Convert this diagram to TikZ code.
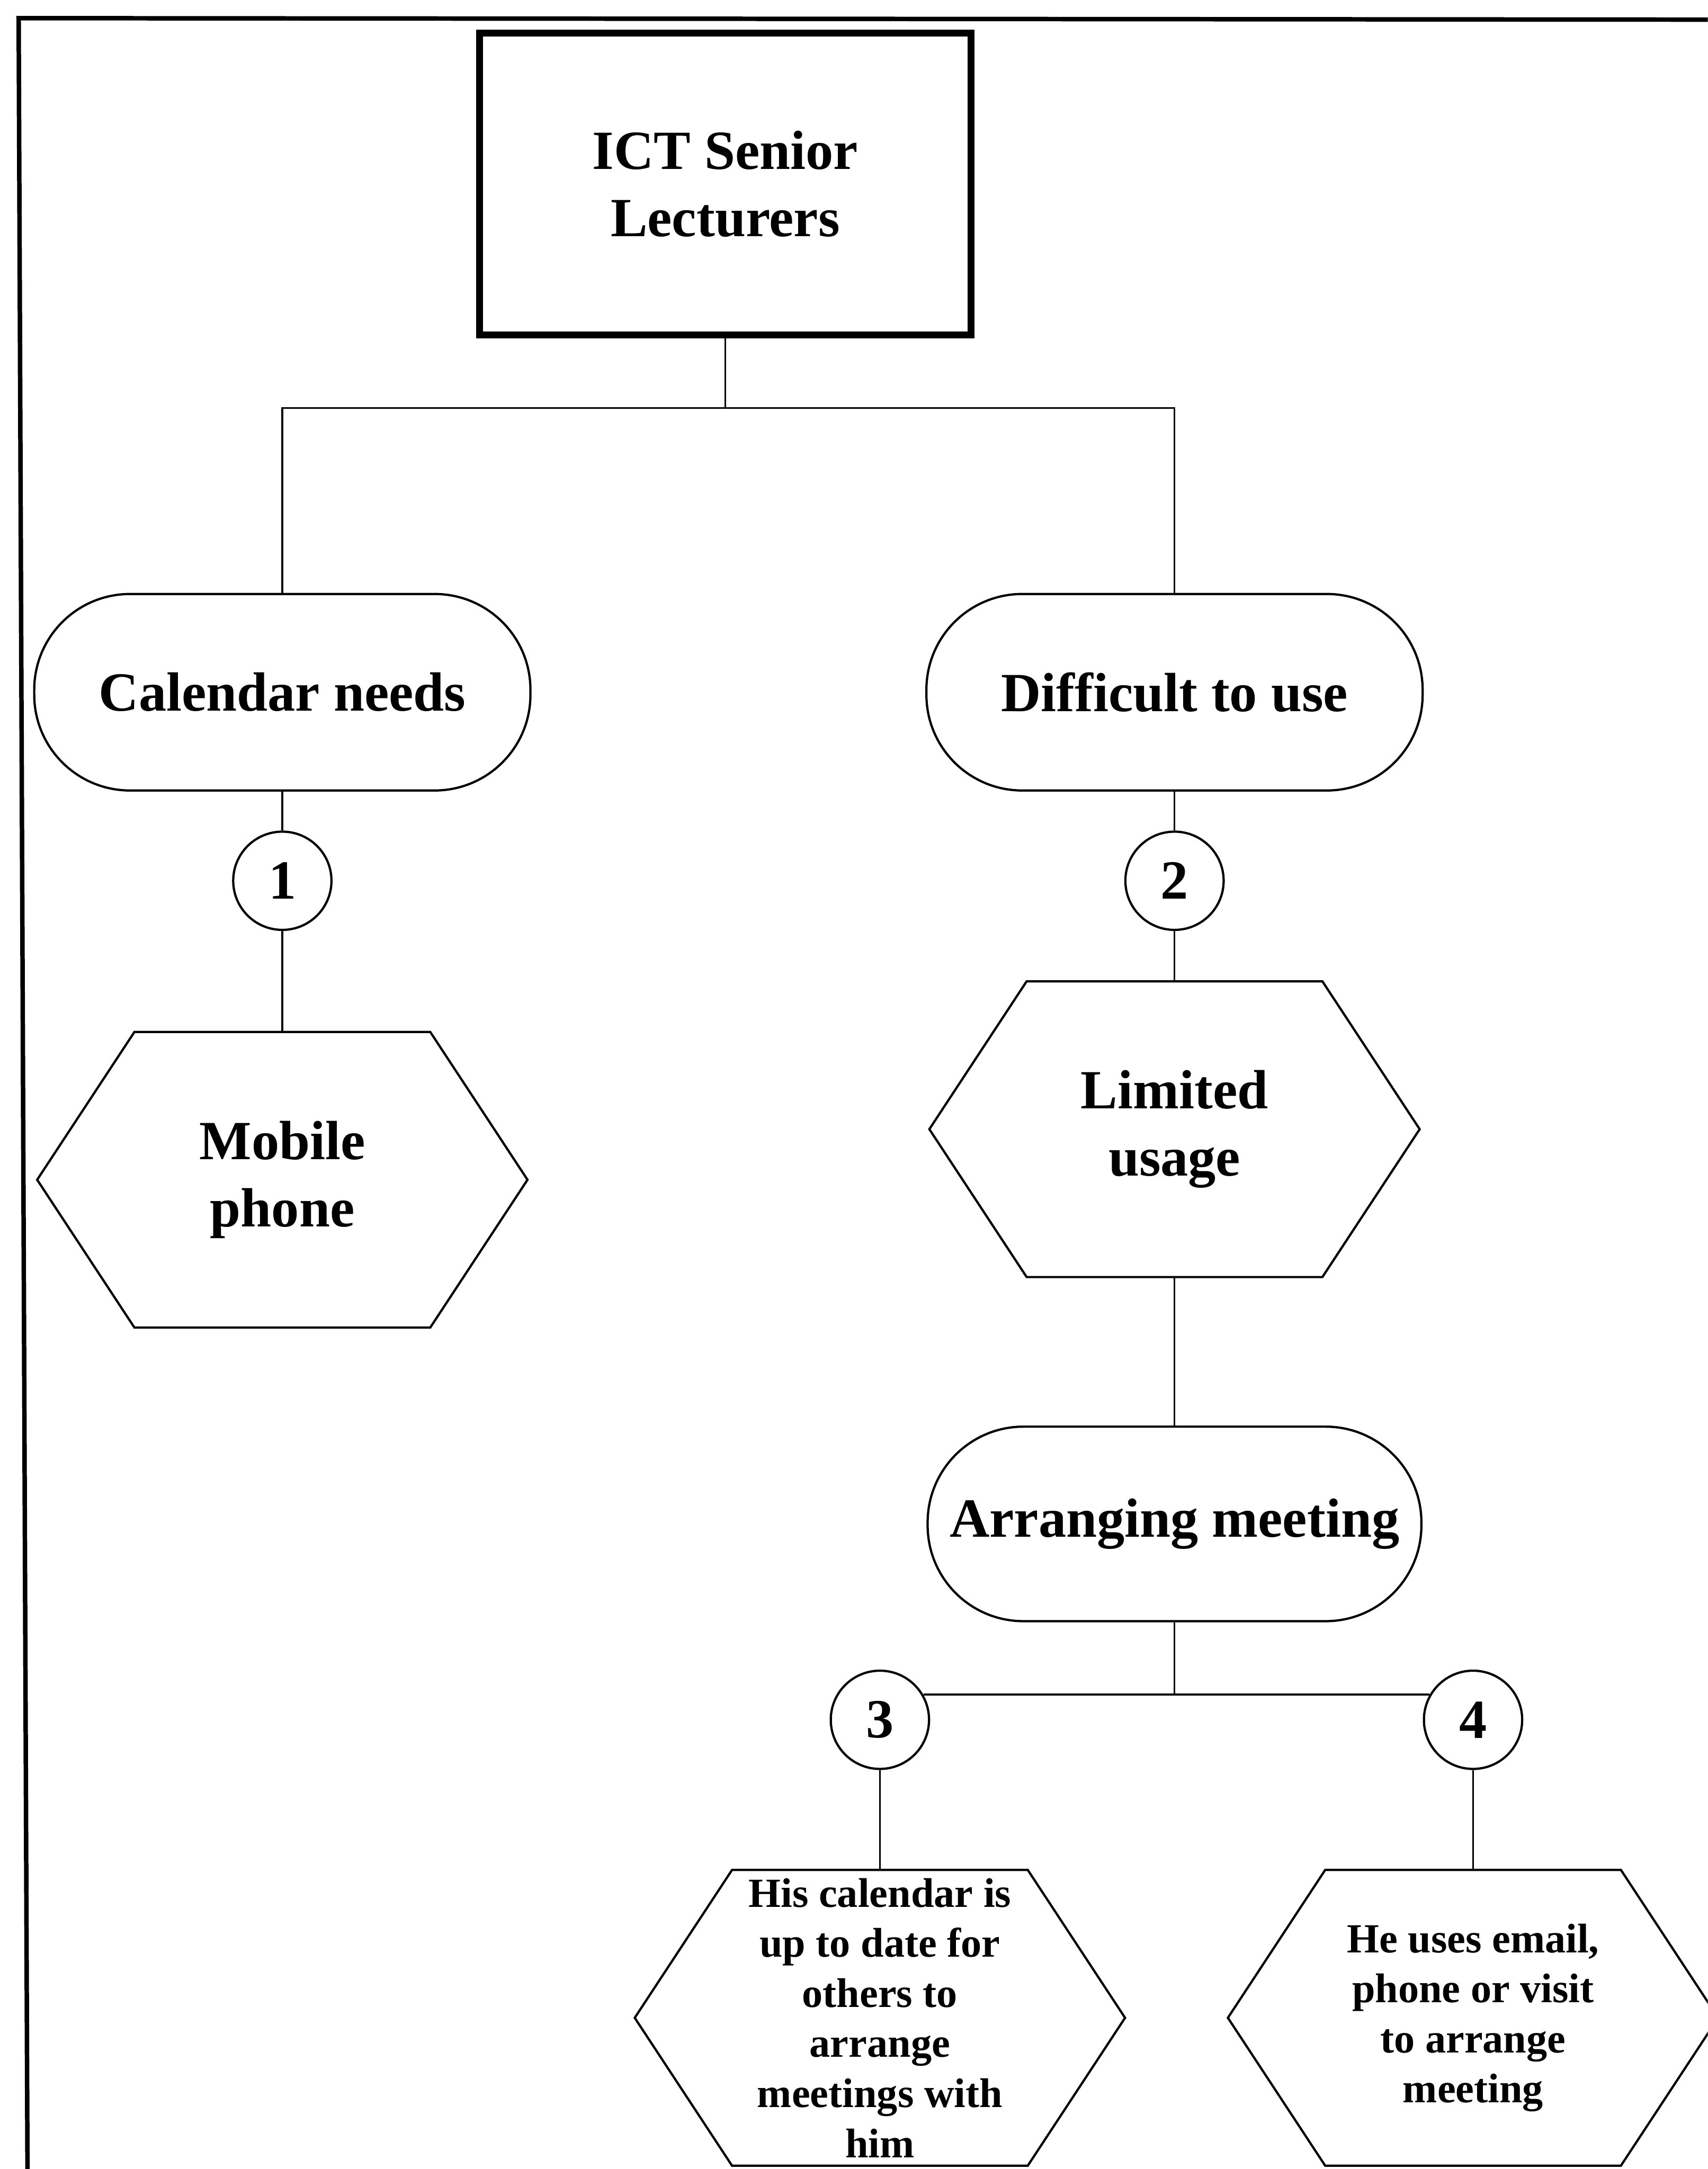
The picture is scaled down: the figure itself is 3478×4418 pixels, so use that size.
\documentclass[tikz,border=0pt]{standalone}
\usepackage{fontspec}
\setmainfont{Liberation Serif}
\newcommand\hexoutline[1]{%
  \draw[shapeline] ([xshift=1.98cm]#1.north west) -- ([xshift=-1.98cm]#1.north east)
    -- (#1.east) -- ([xshift=-1.98cm]#1.south east) -- ([xshift=1.98cm]#1.south west)
    -- (#1.west) -- cycle;}
\begin{document}
\begin{tikzpicture}[x=0.01cm,y=-0.01cm,
  conn/.style={line width=1.1pt},
  shapeline/.style={line width=1.3pt, line join=miter},
  bigtext/.style={font=\fontsize{32}{39}\selectfont\bfseries, align=center},
  smalltext/.style={font=\fontsize{24}{29}\selectfont\bfseries, align=center},
  headbox/.style={draw, line width=4pt, minimum width=10cm, minimum height=6.15cm, inner sep=0pt, bigtext},
  topic/.style={draw, shapeline, rounded corners=1.95cm, minimum width=10.1cm, minimum height=4.0cm, inner sep=0pt, bigtext},
  marker/.style={draw, shapeline, circle, minimum size=2.0cm, inner sep=0pt, bigtext},
  hexbox/.style={minimum width=9.98cm, minimum height=6.02cm, inner sep=0pt, outer sep=0pt},
]
\useasboundingbox (0,0) rectangle (3478,4418);
\clip (0,0) rectangle (3478,4418);

% page frame (left and top edges only)
\draw[line width=2.6pt, line join=miter] (56,4430) -- (38,37) -- (3490,40);

% nodes
\node[headbox] (top) at (1477,375) {ICT Senior\\Lecturers};

\node[topic] (cal) at (575,1410) {Calendar needs};
\node[topic] (dif) at (2392,1410) {Difficult to use};

\node[marker] (c1) at (575,1794) {1};
\node[marker] (c2) at (2392,1794) {2};

\node[hexbox, bigtext] (mob) at (575,2403) {Mobile\\phone};
\hexoutline{mob}
\node[hexbox, bigtext] (lim) at (2392,2300) {Limited\\usage};
\hexoutline{lim}

\node[topic, minimum width=10.05cm, minimum height=3.96cm] (arr) at (2392,3104) {Arranging meeting};

\node[marker] (c3) at (1792,3503) {3};
\node[marker] (c4) at (3000,3503) {4};

\node[hexbox, smalltext] (h3) at (1792,4110) {His calendar is\\up to date for\\others to\\arrange\\meetings with\\him};
\hexoutline{h3}
\node[hexbox, smalltext] (h4) at (3000,4110) {He uses email,\\phone or visit\\to arrange\\meeting};
\hexoutline{h4}

% connectors
\coordinate (split) at (1477,831);
\draw[conn] (top.south) -- (split);
\draw[conn] (cal.north) -- (cal.north |- split) -- (dif.north |- split) -- (dif.north);
\draw[conn] (cal.south) -- (c1.north);
\draw[conn] (c1.south) -- (mob.north);
\draw[conn] (dif.south) -- (c2.north);
\draw[conn] (c2.south) -- (lim.north);
\draw[conn] (lim.south) -- (arr.north);
\draw[conn] (arr.south) -- (arr.south |- c3.30);
\draw[conn] (c3.30) -- (c4.150);
\draw[conn] (c3.south) -- (h3.north);
\draw[conn] (c4.south) -- (h4.north);
\end{tikzpicture}
\end{document}
